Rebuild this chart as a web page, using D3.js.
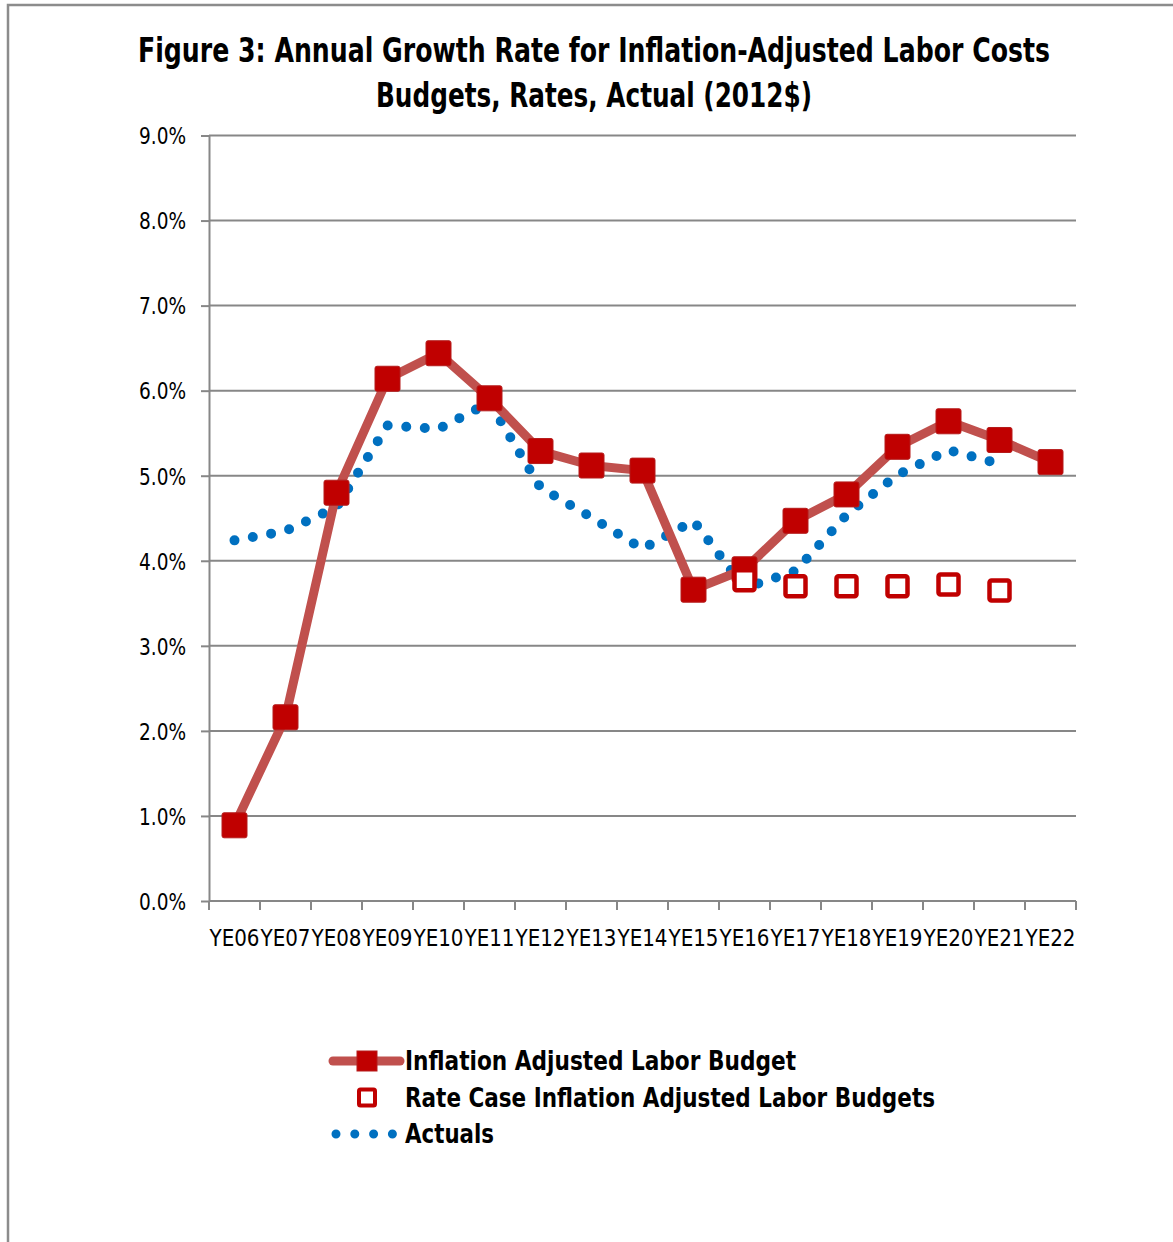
<!DOCTYPE html>
<html>
<head>
<meta charset="utf-8">
<script src="https://cdn.jsdelivr.net/npm/d3@7"></script>
<style>
  html, body { margin: 0; padding: 0; background: #fff; }
  svg { display: block; }
  text { font-family: "Liberation Sans Narrow", "DejaVu Sans Condensed", "Open Sans", sans-serif; fill: #000; }
</style>
</head>
<body>
<svg id="chart" width="1173" height="1242"></svg>
<script>
// Fiscal year-end categories
const categories = ["YE06","YE07","YE08","YE09","YE10","YE11","YE12","YE13","YE14","YE15","YE16","YE17","YE18","YE19","YE20","YE21","YE22"];

// Annual growth rates (%), inflation-adjusted, 2012$
const budgetValues   = [0.89, 2.16, 4.80, 6.14, 6.44, 5.91, 5.29, 5.12, 5.06, 3.66, 3.90, 4.47, 4.78, 5.34, 5.64, 5.42, 5.16];
const rateCaseValues = [null, null, null, null, null, null, null, null, null, null, 3.77, 3.70, 3.70, 3.70, 3.72, 3.65, null];
const actualValues   = [4.24, 4.35, 4.63, 5.59, 5.55, 5.86, 4.86, 4.51, 4.14, 4.47, 3.68, 3.88, 4.54, 5.01, 5.30, 5.14, null];

const yTicks = [0, 1, 2, 3, 4, 5, 6, 7, 8, 9];

const titleLines = [
  "Figure 3: Annual Growth Rate for Inflation-Adjusted Labor Costs",
  "Budgets, Rates, Actual (2012$)"
];
const legendLabels = [
  "Inflation Adjusted Labor Budget",
  "Rate Case Inflation Adjusted Labor Budgets",
  "Actuals"
];

const colors = { line: "#C0504D", marker: "#C00000", actual: "#0070C0", grid: "#878787" };

const svg = d3.select("#chart");

// Outer chart frame (right and bottom edges run past the page)
svg.append("path")
  .attr("d", "M1173,5 H8 V1242")
  .attr("fill", "none").attr("stroke", "#8c8c8c").attr("stroke-width", 2.5);

const plot = { left: 209, right: 1076, top: 135.5, bottom: 901 };

const x = d3.scaleBand().domain(categories).range([plot.left, plot.right]).padding(0);
const y = d3.scaleLinear().domain([0, 9]).range([plot.bottom, plot.top]);
const cx = d => x(d) + x.bandwidth() / 2;

// Title: condensed bold, stretched vertically to the heading height
svg.selectAll("g.title").data(titleLines).join("g")
  .attr("class", "title")
  .attr("transform", (d, i) => `translate(594,${62 + i * 45}) scale(1,1.24)`)
  .append("text")
  .attr("x", 0).attr("y", 0)
  .attr("text-anchor", "middle")
  .attr("font-size", 26.5).attr("font-weight", "bold")
  .attr("textLength", (d, i) => i === 0 ? 912 : 436)
  .attr("lengthAdjust", "spacingAndGlyphs")
  .text(d => d);

// Horizontal gridlines
svg.append("g").selectAll("line").data(yTicks.filter(t => t > 0)).join("line")
  .attr("x1", plot.left).attr("x2", plot.right)
  .attr("y1", d => y(d)).attr("y2", d => y(d))
  .attr("stroke", colors.grid).attr("stroke-width", 2);

// Y axis
const yAxis = svg.append("g")
  .attr("transform", `translate(${plot.left},0)`)
  .call(d3.axisLeft(y).tickValues(yTicks).tickFormat(d => d.toFixed(1) + "%").tickSize(8).tickSizeOuter(0));
yAxis.select(".domain").attr("stroke", colors.grid).attr("stroke-width", 2);
yAxis.selectAll(".tick line").attr("stroke", colors.grid).attr("stroke-width", 2);
yAxis.selectAll(".tick text")
  .attr("x", -23).attr("dy", "0.36em")
  .attr("font-size", 23)
  .attr("textLength", 47).attr("lengthAdjust", "spacingAndGlyphs")
  .style("font-family", "'Liberation Sans Narrow', 'DejaVu Sans Condensed', sans-serif");

// X axis: ticks on category boundaries, labels centred under each category
const xAxisG = svg.append("g").attr("transform", `translate(0,${plot.bottom})`);
xAxisG.append("line")
  .attr("x1", plot.left).attr("x2", plot.right).attr("y1", 0).attr("y2", 0)
  .attr("stroke", colors.grid).attr("stroke-width", 2);
const boundaries = categories.map(c => x(c)).concat([plot.right]);
xAxisG.selectAll("line.tk").data(boundaries).join("line")
  .attr("class", "tk")
  .attr("x1", d => d).attr("x2", d => d).attr("y1", 0).attr("y2", 9)
  .attr("stroke", colors.grid).attr("stroke-width", 2);
xAxisG.selectAll("text").data(categories).join("text")
  .attr("x", d => cx(d)).attr("y", 45)
  .attr("text-anchor", "middle")
  .attr("font-size", 23)
  .attr("textLength", 50).attr("lengthAdjust", "spacingAndGlyphs")
  .text(d => d);

// Actuals: dotted blue line
const actualPts = categories.map((c, i) => ({ c, v: actualValues[i] })).filter(d => d.v != null);
svg.append("path")
  .datum(actualPts)
  .attr("d", d3.line().x(d => cx(d.c)).y(d => y(d.v)))
  .attr("fill", "none")
  .attr("stroke", colors.actual).attr("stroke-width", 10)
  .attr("stroke-linecap", "round")
  .attr("stroke-dasharray", "0 18.6");

// Inflation adjusted labor budget: thick line with filled squares
const budgetPts = categories.map((c, i) => ({ c, v: budgetValues[i] }));
svg.append("path")
  .datum(budgetPts)
  .attr("d", d3.line().x(d => cx(d.c)).y(d => y(d.v)))
  .attr("fill", "none")
  .attr("stroke", colors.line).attr("stroke-width", 9)
  .attr("stroke-linejoin", "round");

const sq = 25;
svg.append("g").selectAll("rect").data(budgetPts).join("rect")
  .attr("x", d => cx(d.c) - sq / 2).attr("y", d => y(d.v) - sq / 2)
  .attr("width", sq).attr("height", sq).attr("rx", 2)
  .attr("fill", colors.marker).attr("stroke", "#b51b1b").attr("stroke-width", 1);

// Rate case budgets: hollow squares
const ratePts = categories.map((c, i) => ({ c, v: rateCaseValues[i] })).filter(d => d.v != null);
const hs = 20;
svg.append("g").selectAll("rect").data(ratePts).join("rect")
  .attr("x", d => cx(d.c) - hs / 2).attr("y", d => y(d.v) - hs / 2)
  .attr("width", hs).attr("height", hs).attr("rx", 2)
  .attr("fill", "#fff").attr("stroke", colors.marker).attr("stroke-width", 4.5);

// Legend
const lg = svg.append("g");
const rowY = [1061, 1097.5, 1134];
lg.append("line").attr("x1", 333).attr("x2", 400).attr("y1", rowY[0]).attr("y2", rowY[0])
  .attr("stroke", colors.line).attr("stroke-width", 9).attr("stroke-linecap", "round");
lg.append("rect").attr("x", 367 - 10).attr("y", rowY[0] - 10).attr("width", 20).attr("height", 20)
  .attr("fill", colors.marker).attr("stroke", "#b51b1b").attr("stroke-width", 1);
lg.append("rect").attr("x", 367 - 8).attr("y", rowY[1] - 8).attr("width", 16).attr("height", 16).attr("rx", 1.5)
  .attr("fill", "#fff").attr("stroke", colors.marker).attr("stroke-width", 4);
lg.append("line").attr("x1", 336).attr("x2", 392.5).attr("y1", rowY[2]).attr("y2", rowY[2])
  .attr("stroke", colors.actual).attr("stroke-width", 9).attr("stroke-linecap", "round")
  .attr("stroke-dasharray", "0 18.8");
const legendWidths = [391, 530, 89];
lg.selectAll("text").data(legendLabels).join("text")
  .attr("x", 405).attr("y", (d, i) => rowY[i] + 9)
  .attr("font-size", 26).attr("font-weight", "bold")
  .attr("textLength", (d, i) => legendWidths[i]).attr("lengthAdjust", "spacingAndGlyphs")
  .text(d => d);
</script>
</body>
</html>
